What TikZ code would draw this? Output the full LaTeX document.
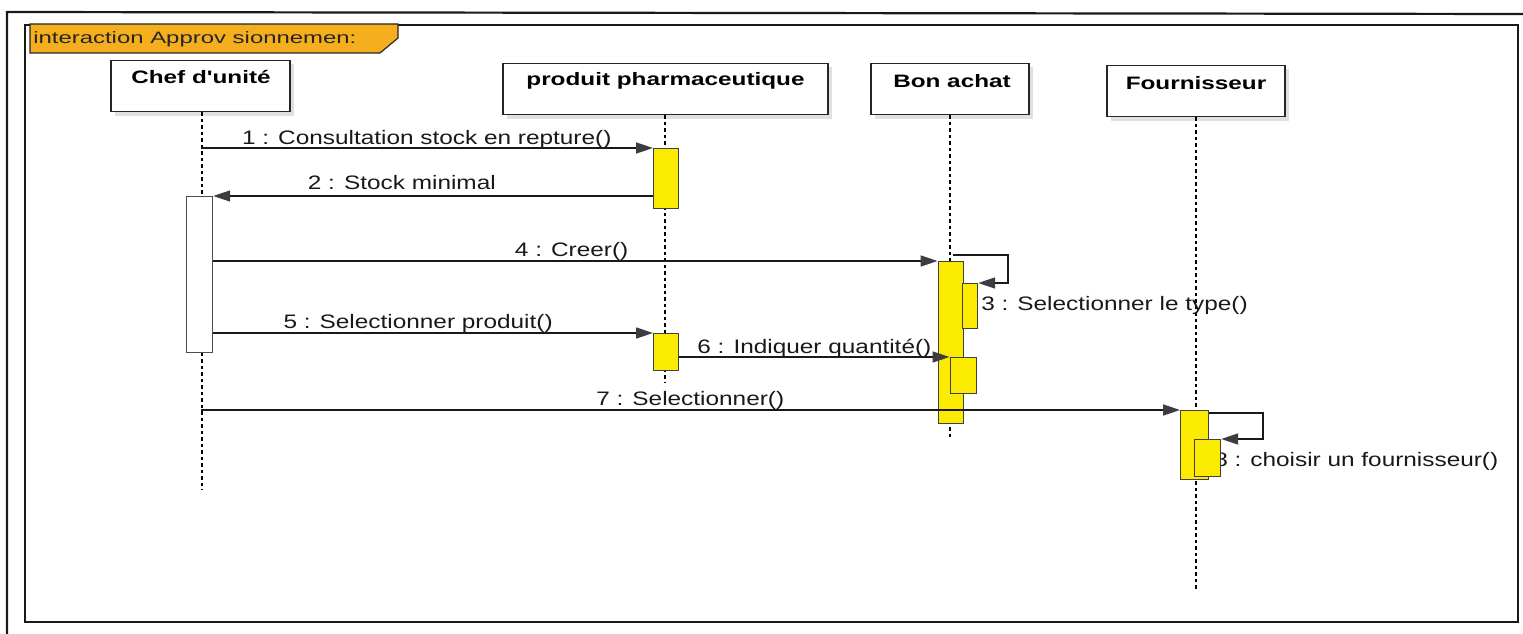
\documentclass[tikz,border=0pt]{standalone}
\usepackage{fontspec}
\setmainfont{Liberation Sans}
\usetikzlibrary{arrows.meta,shadows,calc}
\definecolor{tabor}{RGB}{244,174,30}
\definecolor{actyel}{RGB}{250,235,0}
\definecolor{tipgray}{RGB}{60,60,66}
\tikzset{
  frameline/.style={line width=2.2pt, draw=black!90},
  lifebox/.style={draw=black!85, line width=1.6pt, fill=white, rectangle,
    drop shadow={shadow xshift=4pt, shadow yshift=-4pt, fill=black!12, opacity=1}},
  boxtext/.style={font=\fontsize{18}{19}\selectfont\bfseries, inner sep=0pt,
    xscale=1.35, transform shape},
  lifeline/.style={draw=black, line width=1.4pt, dash pattern=on 3.5pt off 3pt},
  act/.style={draw=black!75, line width=1.2pt, fill=actyel, rectangle, inner sep=0pt},
  chefact/.style={draw=black!70, line width=1.2pt, fill=white, rectangle, inner sep=0pt},
  msg/.style={draw=black!90, line width=1.6pt,
    -{Triangle[length=17pt,width=11pt,fill=tipgray,color=tipgray]}},
  msgtext/.style={font=\fontsize{19.5}{21}\selectfont, inner sep=0pt, text=black!90,
    xscale=1.25, transform shape},
  msglabel/.style={msgtext, midway, anchor=base, yshift=5pt},
}
\begin{document}
\begin{tikzpicture}[x=1pt,y=-1pt]
\useasboundingbox (0,0) rectangle (1523,634);
\fill[white] (0,0) rectangle (1523,634);

% outer page frame and interaction frame
\draw[frameline] (7,640) -- (7,12) -- (1530,14);
\draw[frameline, line width=1.8pt] (25,25) rectangle (1518,622);

% frame tab
\fill[tabor, draw=black!85, line width=1.2pt]
  (30,24) -- (398,24) -- (398,38) -- (380,53) -- (30,53) -- cycle;
\node[anchor=west, inner sep=0pt, font=\fontsize{16.5}{17}\selectfont, text=black!85,
  xscale=1.45, transform shape]
  (tabtxt) at (33,39) {interaction Approv sionnemen:};

% lifeline heads
\node[lifebox, minimum width=179pt, minimum height=51pt] (chef) at (200.5,86) {};
\node[boxtext] (chefL) at (201,77) {Chef d\textquotesingle unité};
\node[lifebox, minimum width=325pt, minimum height=51pt] (prod) at (665.5,89) {};
\node[boxtext] (prodL) at (665.5,81) {produit pharmaceutique};
\node[lifebox, minimum width=158pt, minimum height=51pt] (bon) at (950,89) {};
\node[boxtext] (bonL) at (952,81) {Bon achat};
\node[lifebox, minimum width=178pt, minimum height=51pt] (four) at (1196,91) {};
\node[boxtext] (fourL) at (1196,83) {Fournisseur};

% lifeline ends
\coordinate (chefE) at (202,490);
\coordinate (prodE) at (665,382);
\coordinate (bonE) at (950,440);
\coordinate (fourE) at (1196,590);

\draw[lifeline] (chef.south -| chefE) -- (chefE);
\draw[lifeline] (prod.south -| prodE) -- (prodE);
\draw[lifeline] (bon.south -| bonE) -- (bonE);
\draw[lifeline] (four.south -| fourE) -- (fourE);

% activations
\node[act, minimum width=25pt, minimum height=60pt, anchor=north west] (pa1) at (653,148) {};
\node[chefact, minimum width=26pt, minimum height=156pt, anchor=north west] (ca) at (186,196) {};
\node[act, minimum width=25pt, minimum height=162pt, anchor=north west] (ba) at (937.5,261) {};
\node[act, minimum width=15pt, minimum height=45pt, anchor=north west] (b3) at (962,283) {};
\node[act, minimum width=26pt, minimum height=36pt, anchor=north west] (b6) at (949.5,357) {};
\node[act, minimum width=25pt, minimum height=37pt, anchor=north west] (pa2) at (653,333) {};
\node[act, minimum width=28pt, minimum height=69pt, anchor=north west] (fa) at (1180,410) {};

% message 8 label sits partly under the nested activation
\node[msgtext, anchor=base west] (l8) at (1214,466) {8 : choisir un fournisseur()};
\node[act, minimum width=26pt, minimum height=37pt, anchor=north west] (f8) at (1194,439) {};

% messages
\draw[msg] (chef.south |- pa1.north west) -- (pa1.north west)
  node[msglabel, yshift=-1pt] (l1) {1 : Consultation stock en repture()};
\draw[msg] (pa1.west |- ca.north east) -- (ca.north east)
  node[msglabel, yshift=2pt, xshift=-25pt] (l2) {2 : Stock minimal};
\draw[msg] (ca.east |- ba.north west) -- (ba.north west)
  node[msglabel, xshift=-3pt] (l4) {4 : Creer()};
\coordinate (s3) at ($(ba.north)+(2,-6)$);
\draw[msg] (s3) -- (s3 -| 1008,0) -- (1008,283) -- (b3.north east);
\node[msgtext, anchor=base west] (l3) at (981,310) {3 : Selectionner le type()};
\draw[msg] (ca.east |- pa2.north west) -- (pa2.north west)
  node[msglabel, xshift=-12pt] (l5) {5 : Selectionner produit()};
\draw[msg] (pa2.east |- b6.north west) -- (b6.north west)
  node[msglabel, yshift=-1pt] (l6) {6 : Indiquer quantité()};
\draw[msg] (chef.south |- fa.north west) -- (fa.north west)
  node[msglabel] (l7) {7 : Selectionner()};
\coordinate (s8) at ($(fa.north east)+(0,3)$);
\draw[msg] (s8) -- (s8 -| 1263,0) -- (1263,439) -- (f8.north east);
\end{tikzpicture}
\end{document}
